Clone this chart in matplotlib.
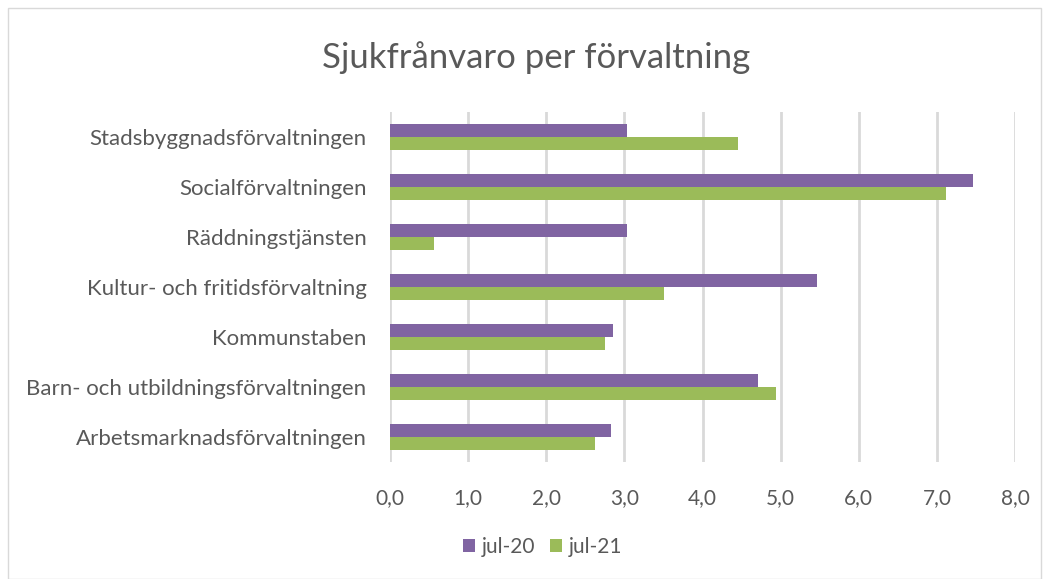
import numpy as np
import matplotlib.pyplot as plt
from matplotlib.patches import Rectangle

plt.rcParams['font.family'] = ['Lato', 'DejaVu Sans']

# categories listed bottom to top, as drawn
forvaltningar = ['Arbetsmarknadsförvaltningen',
                 'Barn- och utbildningsförvaltningen',
                 'Kommunstaben',
                 'Kultur- och fritidsförvaltning',
                 'Räddningstjänsten',
                 'Socialförvaltningen',
                 'Stadsbyggnadsförvaltningen']
jul20 = [2.83, 4.71, 2.85, 5.47, 3.03, 7.46, 3.03]
jul21 = [2.62, 4.94, 2.75, 3.51, 0.56, 7.12, 4.45]
xticks = [0, 1, 2, 3, 4, 5, 6, 7, 8]

purple = '#8064a2'
green = '#9bbb59'
grey = '#595959'

fig = plt.figure(figsize=(10.49, 5.79), dpi=100)
ax = fig.add_axes([390 / 1049, 1 - 462 / 579, 625 / 1049, 350 / 579])

y = np.arange(len(forvaltningar))
h = 0.26
ax.barh(y + h / 2, jul20, height=h, color=purple, label='jul-20', zorder=3)
ax.barh(y - h / 2, jul21, height=h, color=green, label='jul-21', zorder=3)

ax.set_xlim(0, 8)
ax.set_ylim(-0.5, len(forvaltningar) - 0.5)
ax.set_xticks(xticks)
ax.xaxis.set_major_formatter(plt.FuncFormatter(lambda v, p: ('%.1f' % v).replace('.', ',')))
ax.set_yticks(y)
ax.set_yticklabels(forvaltningar)
ax.tick_params(length=0, labelsize=15, colors=grey)
ax.tick_params(axis='y', labelsize=16, pad=17)
ax.tick_params(axis='x', pad=19)
ax.grid(axis='x', color='#d9d9d9', linewidth=2, zorder=0)
for s in ax.spines.values():
    s.set_visible(False)

fig.text(536 / 1049, 1 - 58 / 579, 'Sjukfrånvaro per förvaltning',
         ha='center', va='center', fontsize=25, color=grey)

ax.legend(loc='center', bbox_to_anchor=(0.5 * (458 + 627) / 1049, 1 - 547 / 579),
          bbox_transform=fig.transFigure, ncol=2, frameon=False, fontsize=15,
          handlelength=0.6, handleheight=0.6, handletextpad=0.3, columnspacing=0.7,
          labelcolor=grey)

fig.patches.append(Rectangle((8 / 1049, 0), 1 - 16 / 1049, 1 - 8 / 579,
                             transform=fig.transFigure, fill=False,
                             edgecolor='#d9d9d9', linewidth=1))

fig.savefig('out.png', dpi=100)
